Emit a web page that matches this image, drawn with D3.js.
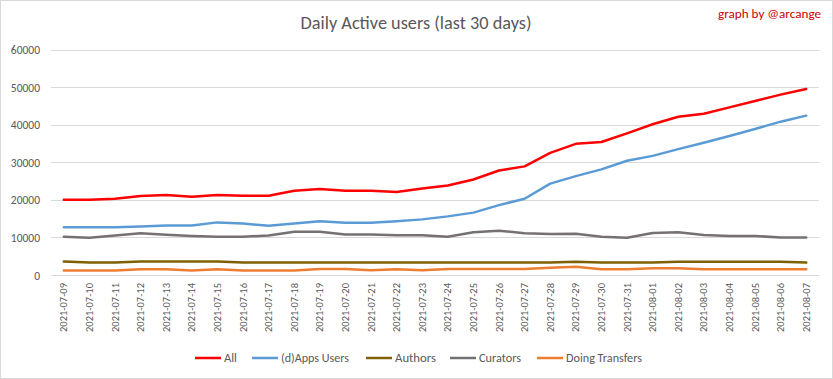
<!DOCTYPE html>
<html>
<head>
<meta charset="utf-8">
<script src="https://cdn.jsdelivr.net/npm/d3@7"></script>
<style>
  html, body { margin: 0; padding: 0; background: #fff; }
  svg { display: block; }
  text { font-family: Carlito, Calibri, Lato, "Open Sans", sans-serif; }
</style>
</head>
<body>
<svg id="chart" width="833" height="379"></svg>
<script>
const dates = ["2021-07-09","2021-07-10","2021-07-11","2021-07-12","2021-07-13","2021-07-14","2021-07-15","2021-07-16","2021-07-17","2021-07-18","2021-07-19","2021-07-20","2021-07-21","2021-07-22","2021-07-23","2021-07-24","2021-07-25","2021-07-26","2021-07-27","2021-07-28","2021-07-29","2021-07-30","2021-07-31","2021-08-01","2021-08-02","2021-08-03","2021-08-04","2021-08-05","2021-08-06","2021-08-07"];
const allUsers = [20000,20000,20300,21000,21300,20800,21300,21100,21100,22400,22900,22400,22400,22100,23000,23800,25400,27800,28900,32500,34900,35400,37700,40100,42100,42900,44600,46300,48000,49500];
const appsUsers = [12700,12700,12700,12900,13200,13200,14000,13700,13100,13700,14300,13900,13900,14300,14800,15600,16600,18600,20300,24300,26300,28100,30400,31700,33500,35200,37000,38850,40800,42400];
const authors = [3600,3300,3300,3600,3600,3600,3600,3300,3300,3300,3300,3300,3300,3300,3300,3300,3300,3300,3300,3300,3500,3300,3300,3300,3500,3500,3500,3500,3500,3300];
const curators = [10200,9900,10500,11100,10700,10400,10200,10200,10500,11500,11500,10800,10800,10600,10600,10200,11400,11800,11100,10900,10950,10150,9900,11200,11400,10650,10400,10400,9950,9950];
const transfers = [1200,1200,1200,1500,1500,1200,1500,1200,1200,1200,1600,1600,1250,1500,1250,1600,1600,1600,1600,1900,2200,1500,1500,1800,1800,1500,1500,1500,1500,1500];
const yTicks = [0,10000,20000,30000,40000,50000,60000];
const seriesNames = ["All","(d)Apps Users","Authors","Curators","Doing Transfers"];
const seriesColors = ["#ff0000","#5b9bd5","#7f6000","#767171","#ed7d31"];
const seriesValues = [allUsers, appsUsers, authors, curators, transfers];

const svg = d3.select("#chart");
const W = 833, H = 379;

svg.append("rect").attr("x",0.5).attr("y",0.5).attr("width",W-1).attr("height",H-1)
  .attr("fill","#fff").attr("stroke","#d9d9d9");

const x = d3.scaleBand().domain(dates).range([51, 819]);
const y = d3.scaleLinear().domain([0, 60000]).range([275, 49.5]);

// grid
const yAxis = d3.axisLeft(y).tickValues(yTicks).tickSize(0).tickPadding(0).tickFormat(d3.format("d"));
const gy = svg.append("g").attr("transform","translate(40,0)").call(yAxis);
gy.select(".domain").remove();
gy.selectAll("text").attr("font-size","11.5px").attr("fill","#595959").attr("x",0).attr("dy","0.35em");

svg.append("g").selectAll("line").data(yTicks).join("line")
  .attr("x1",51).attr("x2",819)
  .attr("y1",d=>Math.round(y(d))+0.5).attr("y2",d=>Math.round(y(d))+0.5)
  .attr("stroke","#d9d9d9").attr("stroke-width",1);

// x axis labels
const xAxis = d3.axisBottom(x).tickSize(0).tickPadding(0);
const gx = svg.append("g").attr("transform","translate(0,281)").call(xAxis);
gx.select(".domain").remove();
gx.selectAll("text")
  .attr("font-size","10.5px").attr("fill","#595959")
  .attr("transform","rotate(-90)")
  .attr("text-anchor","end")
  .attr("x",-2).attr("y",0).attr("dy","0.35em");

// lines
const line = d3.line().x((d,i)=>x(dates[i]) + x.bandwidth()/2).y(d=>y(d));
seriesValues.forEach((vals, k) => {
  svg.append("path").datum(vals).attr("d", line)
    .attr("fill","none").attr("stroke", seriesColors[k])
    .attr("stroke-width",2.5).attr("stroke-linejoin","round").attr("stroke-linecap","round");
});

// title
svg.append("text").attr("x",416).attr("y",29).attr("text-anchor","middle")
  .attr("font-size","18.5px").attr("fill","#595959")
  .attr("textLength",231).attr("lengthAdjust","spacingAndGlyphs")
  .text("Daily Active users (last 30 days)");

svg.append("text").attr("x",821).attr("y",18).attr("text-anchor","end")
  .attr("font-size","12px").attr("fill","#cc0000")
  .attr("textLength",103).attr("lengthAdjust","spacingAndGlyphs")
  .text("graph by @arcange");

// legend
const legendPos = [195, 252, 366, 450, 537];
const legendTextW = [13, 68, 41, 42, 76];
const lg = svg.append("g");
seriesNames.forEach((n,k) => {
  lg.append("line").attr("x1",legendPos[k]).attr("x2",legendPos[k]+26)
    .attr("y1",358).attr("y2",358).attr("stroke",seriesColors[k]).attr("stroke-width",2.5);
  lg.append("text").attr("x",legendPos[k]+29).attr("y",358).attr("dy","0.35em")
    .attr("font-size","11.5px").attr("fill","#595959")
    .attr("textLength",legendTextW[k]).attr("lengthAdjust","spacingAndGlyphs")
    .text(n);
});
</script>
</body>
</html>
